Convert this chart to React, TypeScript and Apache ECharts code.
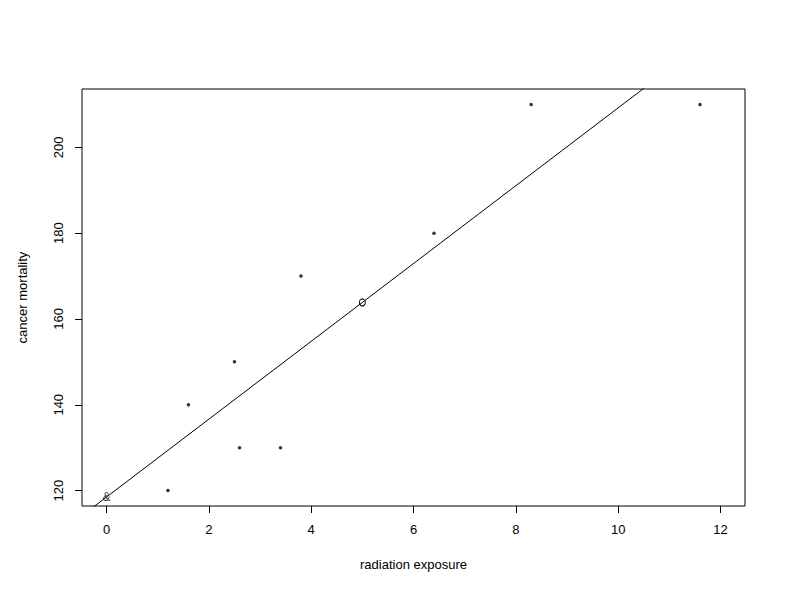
import React, { useEffect, useRef } from "react";
import * as echarts from "echarts";

const exposure = [1.2, 1.6, 2.5, 2.6, 3.4, 3.8, 6.4, 8.3, 11.6];
const mortality = [120, 140, 150, 130, 130, 170, 180, 210, 210];
const xTicks = [0, 2, 4, 6, 8, 10, 12];
const yTicks = [120, 140, 160, 180, 200];
const intercept = 118.5;
const slope = 9.07;
const markX = 5;

const X_MIN = -0.48;
const X_MAX = 12.48;
const Y_MIN = 116.4;
const Y_MAX = 213.6;

export default function App() {
  const ref = useRef<HTMLDivElement>(null);
  useEffect(() => {
    if (!ref.current) return;
    const chart = echarts.init(ref.current, null, { renderer: "svg" });
    const font = "Liberation Sans, Arial, Helvetica, sans-serif";
    const points = exposure.map((x, i) => [x, mortality[i]]);
    const lineData = [
      [X_MIN, intercept + slope * X_MIN],
      [X_MAX, intercept + slope * X_MAX],
    ];
    chart.setOption({
      animation: false,
      backgroundColor: "#ffffff",
      color: ["#000"],
      grid: {
        left: 73,
        top: 81,
        width: 664,
        height: 417,
        show: true,
        borderColor: "#000",
        borderWidth: 1,
        backgroundColor: "transparent",
      },
      xAxis: {
        type: "value",
        min: X_MIN,
        max: X_MAX,
        name: "radiation exposure",
        nameLocation: "middle",
        nameGap: 52,
        nameTextStyle: { color: "#000", fontFamily: font, fontSize: 13 },
        axisLine: { show: false, onZero: false },
        splitLine: { show: false },
        axisTick: {
          show: true,
          length: 7,
          lineStyle: { color: "#000" },
          customValues: xTicks,
        },
        axisLabel: {
          color: "#000",
          fontFamily: font,
          fontSize: 13,
          margin: 17,
          customValues: xTicks,
        },
      },
      yAxis: {
        type: "value",
        min: Y_MIN,
        max: Y_MAX,
        name: "cancer mortality",
        nameLocation: "middle",
        nameGap: 53,
        nameRotate: 90,
        nameTextStyle: { color: "#000", fontFamily: font, fontSize: 13 },
        axisLine: { show: false, onZero: false },
        splitLine: { show: false },
        axisTick: {
          show: true,
          length: 7,
          lineStyle: { color: "#000" },
          customValues: yTicks,
        },
        axisLabel: {
          color: "#000",
          fontFamily: font,
          fontSize: 13,
          rotate: 90,
          margin: 17,
          customValues: yTicks,
        },
      },
      series: [
        {
          type: "line",
          data: lineData,
          showSymbol: false,
          clip: true,
          lineStyle: { color: "#000", width: 1 },
          silent: true,
        },
        {
          type: "scatter",
          data: points,
          symbol: "circle",
          symbolSize: 3.5,
          itemStyle: { color: "#000" },
        },
        {
          type: "scatter",
          data: [[0, intercept]],
          symbolSize: 1,
          itemStyle: { color: "rgba(0,0,0,0)" },
          label: {
            show: true,
            position: "inside",
            formatter: "&",
            color: "#000",
            textBorderWidth: 0,
            fontFamily: font,
            fontSize: 12,
          },
        },
        {
          type: "scatter",
          data: [[markX, intercept + slope * markX]],
          symbol: "circle",
          symbolSize: [6, 7],
          itemStyle: { color: "#ffffff", borderColor: "#000000", borderWidth: 1, opacity: 1 },
        },
      ],
    });
    return () => chart.dispose();
  }, []);
  return <div ref={ref} style={{ width: 776, height: 596 }} />;
}
